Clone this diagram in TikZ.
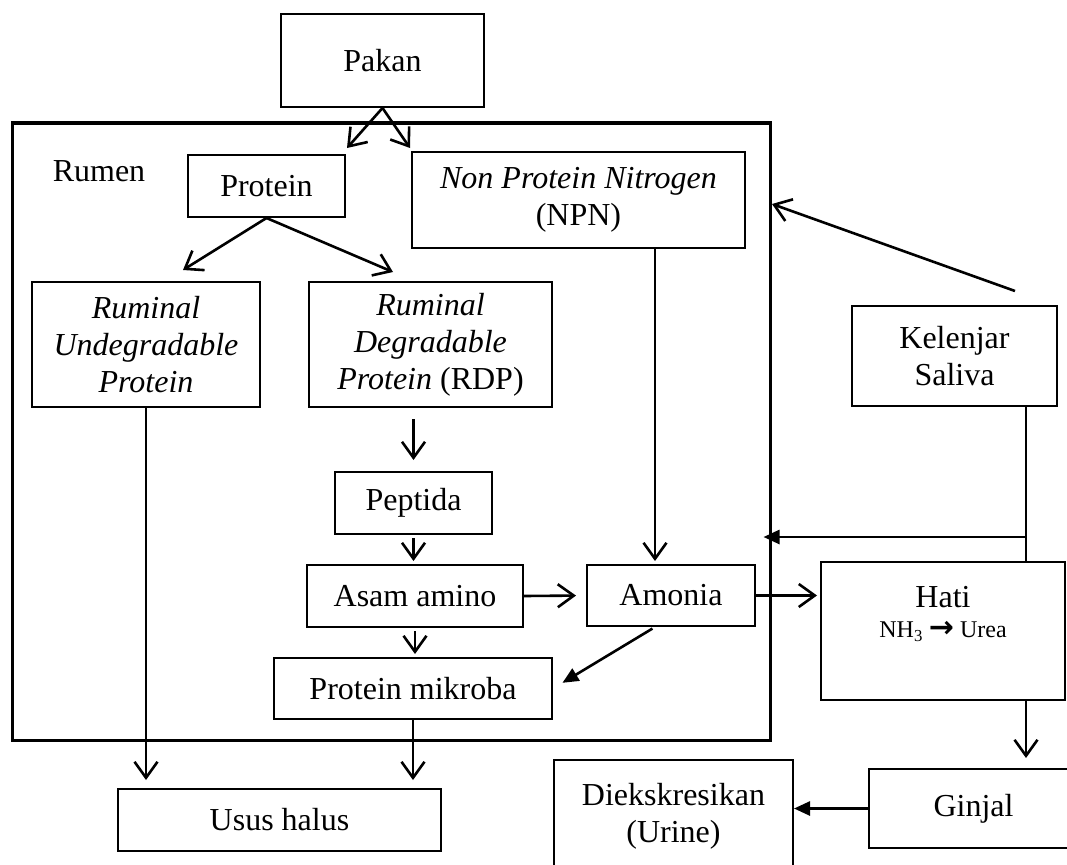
\documentclass[tikz,border=0pt]{standalone}
\usepackage{fontspec}
\setmainfont{Liberation Serif}
\newfontfamily\arrowfont{DejaVu Sans}
\usetikzlibrary{arrows.meta}
\tikzset{
	box/.style={draw, line width=2pt, rectangle, align=center, inner sep=0pt},
	arr/.style={line width=2.6pt, -{Straight Barb[length=16pt,width=23pt]}},
	farr/.style={line width=2.6pt, -{Triangle[length=16pt,width=14pt]}}
}
\begin{document}
\begin{tikzpicture}[x=1pt, y=-1pt, font=\fontsize{32}{37}\selectfont]
			%%%%% START %%%%%
			\useasboundingbox (0,0) rectangle (1067,864);
			
			\node[draw, line width=3pt, minimum width=758pt, minimum height=617pt] (rumen) at (391,431.5) {};
			\node (rumenlbl) at (99,171) {Rumen};
			
			\node[box, minimum width=203pt, minimum height=93pt] (pakan) at (382.5,60.5) {Pakan};
			\node[box, minimum width=157pt, minimum height=62pt] (protein) at (266.5,186) {Protein};
			\node[box, minimum width=333pt, minimum height=96pt] (npn) at (578.5,200) {\textit{Non Protein Nitrogen}\\(NPN)};
			
			\node[box, minimum width=228pt, minimum height=125pt] (rup) at (146,344.5) {\textit{Ruminal}\\\textit{Undegradable}\\\textit{Protein}};
			\node[box, minimum width=243pt, minimum height=125pt] (rdp) at (430.5,344.5) {\textit{Ruminal}\\\textit{Degradable}\\\textit{Protein} (RDP)};
			
			\node[box, minimum width=157pt, minimum height=62pt] (peptida) at (413.5,503) {Peptida};
			\node[box, minimum width=216pt, minimum height=62pt] (asam) at (415,596) {Asam amino};
			\node[box, minimum width=168pt, minimum height=61pt] (amonia) at (671,595.5) {Amonia};
			\node[box, minimum width=278pt, minimum height=61pt] (mikroba) at (413,688.5) {Protein mikroba};
			\node[box, minimum width=323pt, minimum height=62pt] (usus) at (279.5,820) {Usus halus};
			
			\node[box, minimum width=205pt, minimum height=100pt] (saliva) at (954.5,356) {Kelenjar\\Saliva};
			\node[box, minimum width=244pt, minimum height=138pt] (hati) at (943,631) {};
			\node[align=center] (hatilbl) at (943,614) {Hati\\[-7pt]{\fontsize{24}{28}\selectfont NH\textsubscript{3} {\arrowfont\bfseries\fontsize{30}{28}\selectfont →} Urea}};
			\node[box, minimum width=209pt, minimum height=79pt] (ginjal) at (973.5,808.5) {Ginjal};
			\node[box, minimum width=239pt, minimum height=112pt] (diek) at (673.5,816) {Diekskresikan\\(Urine)};
			
			\coordinate (pakanL) at (347,148);
			\coordinate (pakanR) at (410,148);
			\coordinate (protL) at (183,270);
			\coordinate (protR) at (393,272);
			\coordinate (salout) at (1015,291);
			\coordinate (rumenin) at (772,204);
			\coordinate (salj) at (1026,537);
			
			\draw[arr] (pakan.south) -- (pakanL);
			\draw[arr] (pakan.south) -- (pakanR);
			\draw[arr] (protein.south) -- (protL);
			\draw[arr] (protein.south) -- (protR);
			
			\draw[arr, shorten >=8pt] (rup.south) -- (rup.south |- usus.north);
			\draw[arr, shorten <=11pt, shorten >=11pt] (peptida.north |- rdp.south) -- (peptida.north);
			\draw[arr, shorten <=3pt, shorten >=3pt] (peptida.south) -- (peptida.south |- asam.north);
			\draw[arr, shorten >=10pt] (asam.east) -- (amonia.west);
			\draw[arr, shorten >=3pt] ([xshift=-16pt]amonia.north |- npn.south) -- ([xshift=-16pt]amonia.north);
			\draw[arr, shorten <=3pt, shorten >=3pt] (asam.south) -- (asam.south |- mikroba.north);
			\draw[farr, shorten <=3pt, shorten >=11pt] ([xshift=-16pt]amonia.south) -- (mikroba.east);
			\draw[arr, shorten >=8pt] (mikroba.south) -- (mikroba.south |- usus.north);
			\draw[arr, shorten >=3pt] (amonia.east) -- (hati.west |- amonia.east);
			
			\draw[arr] (salout) -- (rumenin);
			\draw[line width=2.6pt] (salj |- saliva.south) -- (salj |- hati.north);
			\draw[farr, shorten >=-8pt] (salj) -- (rumen.east |- salj);
			\draw[arr, shorten >=10pt] (salj |- hati.south) -- (salj |- ginjal.north);
			\draw[farr] (ginjal.west) -- (diek.east |- ginjal.west);
			%%%%% END %%%%%
\end{tikzpicture}
\end{document}
